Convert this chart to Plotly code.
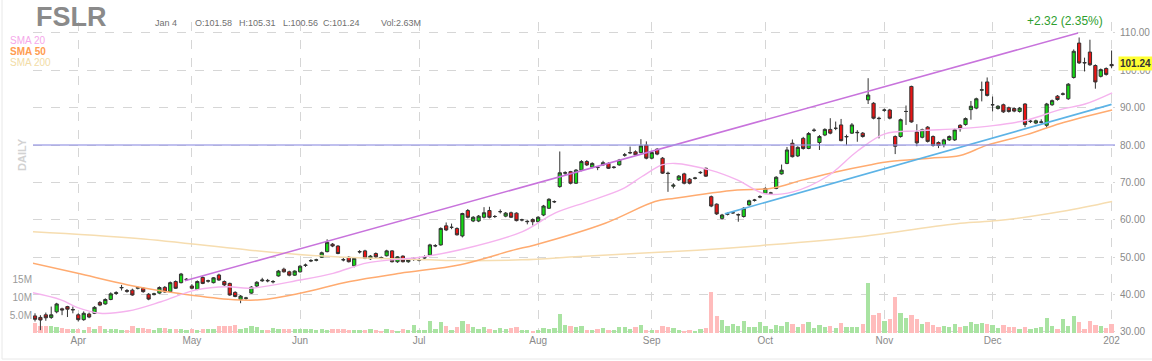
import plotly.graph_objects as go

# ---------------- data ----------------
opens = [34.3, 33.9, 34.6, 33.9, 35.4, 36.2, 36.8, 35.9, 34.6, 33.3,
         34.8, 35.0, 37.9, 37.5, 38.7, 40.3, 41.8, 41.1, 41.2, 41.7,
         41.7, 40.1, 40.0, 40.4, 41.95, 40.8, 43.5, 43.2, 44.0, 42.3,
         41.4, 44.6, 43.6, 43.2, 45.25, 43.5, 43.0, 40.6, 38.7, 39.0,
         40.4, 42.3, 43.7, 43.8, 43.4, 45.0, 46.8, 46.1, 45.2, 46.1,
         47.8, 49.0, 49.2, 50.0, 51.5, 53.5, 53.0, 49.4, 50.0, 47.7,
         51.4, 51.7, 49.6, 51.0, 49.9, 50.4, 51.7, 48.8, 50.3, 48.8,
         49.5, 49.2, 49.8, 50.6, 53.0, 53.3, 58.4, 58.0, 57.7, 55.7,
         62.5, 59.7, 59.7, 60.7, 62.5, 60.9, 62.2, 61.0, 61.9, 61.8,
         60.0, 59.5, 60.1, 59.5, 61.3, 63.1, 64.8, 68.9, 72.5, 72.9,
         69.8, 73.3, 75.6, 74.1, 74.1, 74.7, 75.1, 74.0, 74.7, 77.3,
         77.9, 78.2, 78.0, 80.0, 76.5, 78.9, 76.5, 72.5, 69.0, 70.7,
         72.3, 70.9, 71.1, 72.6, 73.8, 66.2, 64.2, 60.4, 61.5, 61.9,
         61.3, 60.9, 64.0, 65.2, 66.1, 67.1, 67.1, 68.4, 72.3, 75.1,
         80.5, 77.1, 81.8, 79.1, 83.9, 80.7, 82.7, 84.2, 84.5, 85.4,
         82.2, 83.2, 83.3, 83.2, 92.1, 91.2, 87.2, 89.3, 89.4, 82.3,
         82.3, 89.0, 95.7, 83.5, 82.1, 84.8, 82.3, 80.7, 80.1, 81.4,
         81.4, 85.3, 85.5, 89.5, 89.9, 94.7, 96.9, 90.8, 89.8, 90.8,
         90.0, 89.8, 89.0, 91.0, 86.3, 85.9, 86.1, 85.3, 90.8, 93.1,
         93.6, 92.4, 98.1, 107.3, 102.1, 104.9, 101.3, 98.4, 100.5, 101.58]
highs = [35.0, 34.5, 35.2, 36.8, 37.8, 36.5, 37.0, 36.8, 35.0, 35.5,
         35.2, 36.9, 38.3, 39.0, 40.6, 40.9, 42.6, 41.5, 41.6, 42.2,
         42.0, 40.4, 40.5, 42.2, 42.3, 43.5, 43.8, 45.8, 44.4, 42.8,
         43.8, 44.9, 44.0, 44.7, 45.6, 43.8, 43.2, 40.9, 39.9, 39.4,
         42.3, 43.6, 44.5, 44.2, 43.9, 46.6, 47.2, 46.4, 46.5, 47.9,
         48.3, 49.5, 49.6, 51.5, 54.8, 53.8, 53.2, 49.9, 50.3, 50.0,
         51.9, 52.0, 50.6, 51.3, 50.2, 52.0, 51.9, 50.3, 50.5, 49.7,
         49.9, 49.7, 50.5, 53.6, 53.5, 58.0, 59.3, 59.0, 58.0, 61.9,
         62.9, 61.0, 61.3, 63.4, 63.5, 61.3, 62.8, 62.1, 62.2, 62.0,
         60.3, 59.9, 60.4, 61.0, 64.0, 65.8, 65.2, 78.3, 73.0, 73.1,
         73.6, 76.0, 76.0, 75.4, 74.3, 75.8, 75.4, 74.4, 76.3, 77.9,
         79.6, 78.6, 81.6, 81.0, 78.3, 79.2, 76.8, 72.9, 69.8, 72.0,
         72.6, 71.2, 71.5, 73.0, 74.0, 66.5, 64.4, 61.6, 62.0, 62.3,
         61.7, 63.4, 65.4, 65.6, 66.6, 68.7, 67.5, 71.7, 74.8, 79.5,
         81.5, 79.7, 82.2, 83.5, 84.5, 82.7, 84.5, 87.2, 86.3, 87.0,
         82.8, 85.9, 84.0, 83.5, 97.9, 91.5, 87.6, 89.8, 89.7, 82.6,
         87.1, 90.6, 95.9, 85.6, 84.4, 85.1, 82.6, 81.0, 81.7, 82.6,
         84.4, 85.6, 87.4, 91.8, 92.7, 97.0, 98.1, 93.0, 90.7, 91.1,
         90.3, 90.1, 90.2, 91.2, 86.8, 86.8, 86.9, 91.3, 92.2, 93.4,
         94.1, 96.6, 105.6, 108.8, 103.4, 108.2, 101.6, 100.5, 100.8, 105.31]
lows = [32.8, 30.5, 33.0, 33.5, 35.0, 34.5, 34.0, 35.0, 32.8, 33.0,
        33.7, 34.8, 36.9, 37.3, 38.5, 39.9, 41.1, 40.5, 39.7, 41.4,
        40.5, 38.5, 39.8, 40.2, 40.5, 40.6, 41.5, 43.0, 43.8, 41.4,
        41.2, 42.8, 43.2, 43.0, 43.7, 42.3, 39.7, 39.3, 37.7, 38.6,
        40.2, 42.0, 43.4, 43.3, 43.0, 44.8, 45.9, 44.9, 45.0, 45.9,
        47.4, 48.7, 48.9, 49.8, 51.3, 52.7, 50.8, 48.9, 48.6, 47.3,
        51.0, 49.5, 49.3, 49.8, 49.5, 50.2, 48.6, 48.5, 48.6, 48.5,
        49.0, 48.9, 49.6, 50.4, 52.7, 53.1, 57.0, 57.5, 55.8, 55.3,
        60.4, 59.4, 59.4, 60.4, 60.4, 60.5, 61.7, 60.7, 60.5, 59.6,
        59.6, 58.8, 58.5, 59.3, 61.0, 62.9, 64.5, 68.6, 72.0, 69.5,
        69.6, 73.0, 74.4, 73.8, 73.3, 74.5, 73.6, 73.7, 74.5, 76.9,
        77.6, 77.1, 77.8, 76.2, 76.2, 77.3, 72.3, 67.5, 68.4, 70.4,
        69.5, 69.5, 70.8, 72.3, 71.5, 63.4, 61.3, 60.1, 61.2, 61.6,
        59.5, 60.6, 63.8, 64.9, 65.8, 66.9, 66.7, 68.2, 72.1, 74.9,
        76.7, 76.8, 78.8, 78.9, 83.5, 78.7, 82.4, 82.9, 84.0, 81.0,
        80.0, 83.0, 80.9, 82.0, 91.0, 86.9, 81.8, 88.9, 86.9, 77.6,
        82.0, 85.4, 86.0, 79.7, 81.8, 80.7, 79.6, 79.2, 79.4, 81.1,
        81.1, 83.6, 85.2, 86.8, 89.6, 91.7, 93.0, 89.0, 89.5, 88.6,
        88.7, 88.8, 88.7, 84.8, 85.9, 85.6, 85.8, 84.7, 90.5, 91.9,
        93.3, 92.1, 97.8, 101.7, 99.7, 101.2, 95.1, 98.1, 98.6, 100.56]
closes = [33.4, 33.2, 33.8, 34.6, 37.5, 35.9, 36.1, 36.0, 33.3, 35.0,
          34.0, 36.6, 37.2, 38.7, 40.2, 40.5, 41.9, 40.9, 39.9, 41.9,
          40.8, 38.8, 40.2, 41.9, 40.7, 43.2, 41.7, 45.5, 44.1, 41.7,
          43.5, 43.0, 43.7, 44.5, 43.9, 42.6, 39.9, 39.5, 39.6, 39.1,
          42.0, 43.3, 43.9, 43.7, 43.5, 46.3, 46.1, 45.2, 46.3, 47.6,
          47.9, 49.1, 49.3, 51.2, 54.0, 53.0, 51.0, 49.3, 48.8, 49.7,
          51.5, 49.7, 50.3, 50.1, 49.8, 51.7, 48.8, 50.1, 48.8, 49.4,
          49.5, 49.3, 49.9, 53.3, 53.1, 57.7, 57.3, 58.0, 56.0, 61.7,
          60.7, 60.7, 61.0, 61.9, 60.7, 60.9, 62.2, 61.8, 60.7, 59.8,
          60.0, 59.6, 59.5, 60.7, 63.7, 65.5, 64.9, 72.6, 72.6, 69.8,
          73.3, 75.6, 74.7, 75.1, 74.0, 75.3, 73.8, 74.1, 76.0, 77.4,
          78.0, 77.4, 79.8, 76.5, 78.0, 77.6, 72.5, 72.4, 69.3, 71.7,
          69.8, 69.8, 71.2, 72.7, 71.7, 63.7, 61.6, 61.3, 61.6, 61.9,
          61.4, 63.1, 65.1, 65.3, 66.2, 68.4, 67.2, 71.4, 73.3, 78.7,
          76.9, 79.4, 79.1, 83.1, 84.0, 82.3, 84.2, 83.2, 84.5, 81.2,
          82.3, 85.4, 83.4, 82.3, 93.4, 87.2, 87.1, 89.4, 87.2, 79.7,
          86.8, 89.0, 86.2, 80.6, 84.1, 81.0, 79.9, 79.9, 81.4, 82.3,
          84.1, 84.4, 87.1, 90.4, 92.4, 94.8, 93.3, 90.8, 90.4, 88.9,
          89.0, 89.1, 89.9, 85.5, 86.4, 86.5, 86.2, 91.0, 91.9, 92.2,
          93.7, 96.3, 105.1, 102.0, 102.0, 101.5, 96.9, 100.2, 98.92, 101.24]
volumes_m = [2.8, 2.1, 1.9, 1.9, 1.7, 1.4, 1.2, 1.2, 1.2, 0.94,
             1.6, 1.2, 1.9, 1.1, 1.1, 1.1, 0.94, 0.94, 1.9, 1.4,
             1.4, 1.1, 0.94, 1.5, 1.3, 1.2, 1.2, 1.2, 0.94, 1.1,
             0.94, 1.2, 1.1, 1.1, 1.9, 1.9, 1.9, 2.25, 1.1, 1.4,
             2.1, 1.7, 0.94, 0.75, 1.3, 1.2, 1.2, 1.0, 1.0, 1.1,
             1.0, 1.2, 0.94, 1.0, 0.94, 1.1, 1.1, 1.2, 0.84, 0.75,
             0.75, 0.84, 1.1, 0.94, 0.66, 1.12, 0.94, 0.66, 1.22, 0.94,
             2.16, 0.75, 0.94, 3.47, 1.22, 3.0, 1.87, 0.75, 1.69, 3.28,
             2.62, 1.6, 1.22, 1.6, 1.22, 0.94, 1.4, 1.22, 1.4, 1.6,
             0.75, 0.75, 0.66, 0.75, 1.4, 1.22, 1.4, 5.43, 2.34, 1.87,
             1.69, 1.87, 0.94, 0.94, 1.22, 1.4, 0.94, 0.75, 1.6, 1.6,
             1.22, 1.6, 2.34, 0.75, 0.94, 0.94, 2.06, 1.6, 1.4, 0.94,
             0.66, 0.94, 0.66, 1.22, 1.4, 11.5, 4.87, 3.56, 1.87, 2.62,
             1.87, 3.28, 1.6, 1.6, 3.0, 2.06, 1.22, 2.25, 2.0, 3.2,
             2.6, 1.8, 2.4, 3.0, 1.5, 2.2, 1.8, 2.0, 1.5, 2.8,
             1.8, 1.6, 1.7, 2.6, 14.0, 5.0, 5.5, 3.5, 4.0, 10.0,
             5.5, 4.2, 5.0, 4.0, 2.6, 3.0, 2.2, 1.8, 2.0, 1.7,
             2.4, 1.8, 2.0, 3.2, 2.5, 2.8, 2.6, 2.2, 1.3, 2.3,
             1.6, 1.6, 1.1, 1.6, 1.1, 1.4, 1.6, 4.2, 2.1, 1.1,
             3.9, 1.9, 4.7, 3.0, 1.1, 3.3, 2.3, 1.9, 1.4, 2.63]

# month tick positions (trading-day index) and labels
month_ticks = [8, 29, 49, 71, 93, 114, 135, 157, 177, 199]
month_labels = ['Apr', 'May', 'Jun', 'Jul', 'Aug', 'Sep', 'Oct', 'Nov', 'Dec', '202']

# moving averages (trading-day index, price)
sma20_idx = [-0.4, 4.8, 7.9, 12.0, 17.2, 23.3, 29.6, 35.7, 39.7, 49.0, 55.1, 61.4, 67.5, 71.2,
             78.6, 90.0, 96.1, 102.2, 108.5, 112.2, 115.9, 118.3, 124.8, 129.8, 134.9, 140.1,
             146.4, 152.1, 157.1, 163.2, 171.0, 177.1, 183.4, 189.5, 194.1, 199.1]
sma20_val = [40.5, 38.6, 36.5, 35.0, 35.6, 38.1, 41.2, 42.1, 41.7, 43.9, 45.7, 48.5, 49.5, 50.0,
             52.0, 56.8, 61.8, 64.9, 68.2, 71.6, 74.7, 75.1, 73.3, 70.7, 67.0, 67.5,
             71.6, 78.5, 83.0, 83.8, 84.4, 85.2, 86.7, 89.5, 91.0, 94.0]
sma50_idx = [-0.4, 7.9, 17.2, 26.4, 35.7, 41.6, 49.0, 58.2, 67.5, 78.6, 88.4, 92.4, 105.4,
             114.6, 118.3, 129.8, 135.9, 142.0, 148.2, 154.3, 158.0, 165.4, 171.0, 176.0,
             183.3, 189.5, 199.1]
sma50_val = [48.4, 45.7, 42.6, 40.35, 38.75, 38.6, 40.35, 43.5, 45.7, 48.0, 51.9, 53.3, 59.1,
             64.9, 65.8, 68.0, 68.4, 70.7, 72.9, 74.7, 75.6, 76.5, 77.2, 80.0,
             82.8, 85.8, 89.4]
sma200_idx = [-0.4, 19.0, 39.7, 50.0, 62.5, 73.0, 78.6, 90.0, 100.7, 122.4, 134.0, 152.5,
              171.0, 178.0, 190.0, 199.1]
sma200_val = [56.8, 55.0, 51.9, 50.6, 49.7, 49.3, 49.1, 49.3, 50.2, 51.9, 53.1, 55.5,
              59.1, 59.8, 62.3, 64.9]

# drawn trend lines (index, price end points) and horizontal level
channel_idx = [27.7, 192.8]
channel_val = [43.7, 110.0]
uptrend_idx = [127.5, 199.0]
uptrend_val = [61.6, 90.9]
support_level = 80.0

price_ticks = [30, 40, 50, 60, 70, 80, 90, 100, 110]
vol_ticks = [5e6, 10e6, 15e6]
vol_labels = ['5.0M', '10M', '15M']

# ---------------- figure ----------------
W, H = 1152, 361
L, R, T, B = 33, 37, 22, 28
PW, PH = W - L - R, H - T - B
FONT = 'Liberation Sans, Arial, sans-serif'


def xp(px):
    return (px - L) / PW


def yp(py):
    return (H - B - py) / PH


idx = list(range(len(closes)))
vol_colors = ['#a9e3a2' if c >= o else '#ffbcbc' for o, c in zip(opens, closes)]

fig = go.Figure()
fig.add_trace(go.Bar(x=idx, y=[v * 1e6 for v in volumes_m], marker_color=vol_colors,
                     marker_line_width=0, width=0.8, yaxis='y', hoverinfo='skip'))
fig.add_trace(go.Scatter(x=sma200_idx, y=sma200_val, mode='lines', yaxis='y2',
                         line=dict(color='#f6ddb0', width=1.5, shape='spline')))
fig.add_trace(go.Scatter(x=sma50_idx, y=sma50_val, mode='lines', yaxis='y2',
                         line=dict(color='#ffab70', width=1.5, shape='spline')))
fig.add_trace(go.Scatter(x=sma20_idx, y=sma20_val, mode='lines', yaxis='y2',
                         line=dict(color='#f5b3ee', width=1.4, shape='spline')))
fig.add_trace(go.Scatter(x=channel_idx, y=channel_val, mode='lines', yaxis='y2',
                         line=dict(color='#c873dc', width=1.5)))
fig.add_trace(go.Scatter(x=uptrend_idx, y=uptrend_val, mode='lines', yaxis='y2',
                         line=dict(color='#5cb3e6', width=1.6)))
fig.add_trace(go.Candlestick(
    x=idx, open=opens, high=highs, low=lows, close=closes, yaxis='y2',
    increasing=dict(line=dict(color='#333333', width=1), fillcolor='#14d814'),
    decreasing=dict(line=dict(color='#333333', width=1), fillcolor='#ea1414'),
    whiskerwidth=0))

grid = '#d6d6d6'
fig.update_layout(
    width=W, height=H, margin=dict(l=L, r=R, t=T, b=B, autoexpand=False),
    paper_bgcolor='white', plot_bgcolor='white', showlegend=False,
    font=dict(family=FONT, color='#888888', size=10),
    boxgap=0.15,
    xaxis=dict(range=[(L - 35) / 5.41, (W - R - 35) / 5.41], tickmode='array',
               tickvals=month_ticks, ticktext=month_labels, showgrid=True,
               gridcolor=grid, griddash='dash', gridwidth=1, zeroline=False,
               showline=False, ticks='', rangeslider=dict(visible=False),
               automargin=False, tickfont=dict(size=10, color='#8a8a8a')),
    yaxis=dict(range=[0, 87.4e6], side='left', tickmode='array', tickvals=vol_ticks,
               ticktext=vol_labels, showgrid=False, zeroline=False, showline=False,
               ticks='', automargin=False, tickfont=dict(size=10, color='#9a9a9a')),
    yaxis2=dict(range=[29.73, 112.94], overlaying='y', side='right', tickmode='array',
                tickvals=price_ticks, ticktext=['%.2f' % v for v in price_ticks],
                showgrid=True, gridcolor=grid, griddash='dash', gridwidth=1,
                zeroline=False, showline=False, ticks='', ticklabelstandoff=4,
                automargin=False, tickfont=dict(size=10, color='#8a8a8a')),
    bargap=0,
)

fig.add_shape(type='line', xref='paper', yref='y2', x0=0, x1=1,
              y0=support_level, y1=support_level,
              line=dict(color='rgba(150,150,228,0.6)', width=2))
# thin frame around the chart container (left and bottom edges)
fig.add_shape(type='line', xref='paper', yref='paper', x0=xp(2), x1=xp(2), y0=yp(359), y1=yp(0),
              line=dict(color='#e8e8e8', width=1))
fig.add_shape(type='line', xref='paper', yref='paper', x0=xp(2), x1=xp(1152), y0=yp(359), y1=yp(359),
              line=dict(color='#e8e8e8', width=1))

ann = []
ann.append(dict(text='<b>FSLR</b>', x=xp(34), y=yp(17), xanchor='left', yanchor='middle',
                font=dict(size=27, color='#8a8a8a')))
info = [('Jan 4', 153), ('O:101.58', 193), ('H:105.31', 237), ('L:100.56', 281),
        ('C:101.24', 321), ('Vol:2.63M', 379)]
for t, px in info:
    ann.append(dict(text=t, x=xp(px), y=yp(23), xanchor='left', yanchor='middle',
                    font=dict(size=9, color='#707070')))
sma_labels = [('SMA 20', '#f5a8ea', 40.5), ('SMA 50', '#ff9c50', 51.5), ('SMA 200', '#f2dca6', 62)]
for t, c, py in sma_labels:
    ann.append(dict(text='<b>' + t + '</b>' if t == 'SMA 50' else t, x=xp(8), y=yp(py),
                    xanchor='left', yanchor='middle', font=dict(size=10, color=c)))
ann.append(dict(text='<b>DAILY</b>', x=xp(22), y=yp(155), textangle=-90, xanchor='center',
                yanchor='middle', font=dict(size=11, color='#d2d2d2')))
ann.append(dict(text='+2.32 (2.35%)', x=xp(1065), y=yp(21), xanchor='center', yanchor='middle',
                font=dict(size=12, color='#2e9e2e')))
ann.append(dict(text='<b>101.24</b>', x=xp(1118), xref='paper', y=closes[-1] + 0.6, yref='y2',
                xanchor='left', yanchor='middle', bgcolor='#ffff33', borderpad=1,
                font=dict(size=10, color='#333333')))
for a in ann:
    a.setdefault('xref', 'paper')
    a.setdefault('yref', 'paper')
    a['showarrow'] = False
fig.update_layout(annotations=ann)

fig.write_html('out.html')
